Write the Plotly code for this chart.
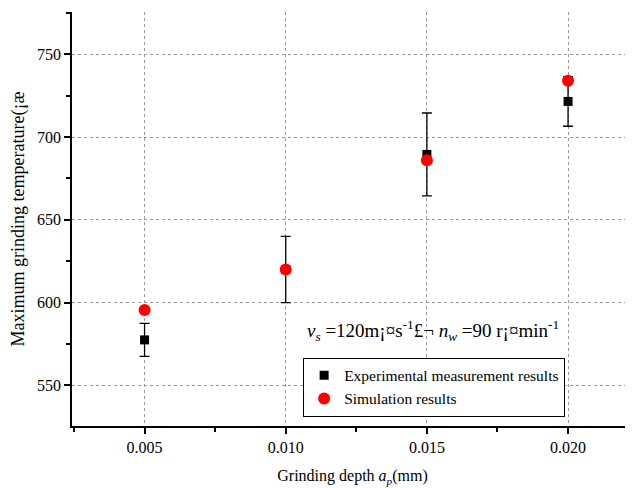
import plotly.graph_objects as go

depth = [0.005, 0.010, 0.015, 0.020]
exp_vals = [577.5, 620.0, 689.5, 721.5]
exp_err = [10, 20, 25, 15]
sim_vals = [595.5, 620.0, 686.0, 734.0]

x_ticks = [0.005, 0.010, 0.015, 0.020]
x_ticklabels = ["0.005", "0.010", "0.015", "0.020"]
y_ticks = [550, 600, 650, 700, 750]

FONT = "Liberation Serif"

fig = go.Figure()
fig.add_trace(go.Scatter(
    x=depth, y=exp_vals, mode="markers", name="Experimental measurement results",
    marker=dict(symbol="square", size=9, color="black"),
    error_y=dict(type="data", array=exp_err, visible=True, color="black", thickness=1.3, width=5),
))
fig.add_trace(go.Scatter(
    x=depth, y=sim_vals, mode="markers", name="Simulation results",
    marker=dict(symbol="circle", size=12, color="#ff0000"),
))

axis_common = dict(
    showline=True, linecolor="black", linewidth=1.5,
    ticks="outside", ticklen=6, tickwidth=1.5, tickcolor="black",
    showgrid=True, gridcolor="#999999", griddash="dot", gridwidth=1,
    zeroline=False, mirror=False, automargin=False,
    tickfont=dict(family=FONT, size=16, color="black"),
)

fig.update_xaxes(
    range=[0.00243, 0.0223], tickvals=x_ticks, ticktext=x_ticklabels,
    minor=dict(tickvals=[0.0075, 0.0125, 0.0175, 0.0025, 0.0225], ticks="outside", ticklen=4, tickwidth=1.5, tickcolor="black", showgrid=False),
    title=dict(text="Grinding depth <i>a</i><sub><i>p</i></sub>(mm)", font=dict(family=FONT, size=16, color="black"), standoff=15),
    **axis_common,
)
fig.update_yaxes(
    range=[525.5, 775.5], tickvals=y_ticks,
    minor=dict(tickvals=[575, 625, 675, 725, 775], ticks="outside", ticklen=4, tickwidth=1.5, tickcolor="black", showgrid=False),
    title=dict(text="Maximum grinding temperature(¡æ", font=dict(family=FONT, size=18, color="black"), standoff=9),
    **axis_common,
)

fig.add_annotation(
    x=0.0107, y=583, xref="x", yref="y", xanchor="left", yanchor="middle",
    text="<i>v</i><sub><i>s</i></sub> =120m¡¤s<sup>-1</sup>£¬ <i>n</i><sub><i>w</i></sub> =90 r¡¤min<sup>-1</sup>",
    showarrow=False, font=dict(family=FONT, size=19, color="black"),
)

fig.update_layout(
    width=625, height=480,
    margin=dict(l=64, r=0, t=4, b=62),
    plot_bgcolor="white", paper_bgcolor="white",
    showlegend=True,
    legend=dict(
        x=0.412, y=0.165, xanchor="left", yanchor="top",
        bordercolor="black", borderwidth=1, bgcolor="white",
        font=dict(family=FONT, size=15.5, color="black"),
        itemwidth=30, tracegroupgap=0,
    ),
    font=dict(family=FONT, color="black"),
)

fig.write_html("out.html")
